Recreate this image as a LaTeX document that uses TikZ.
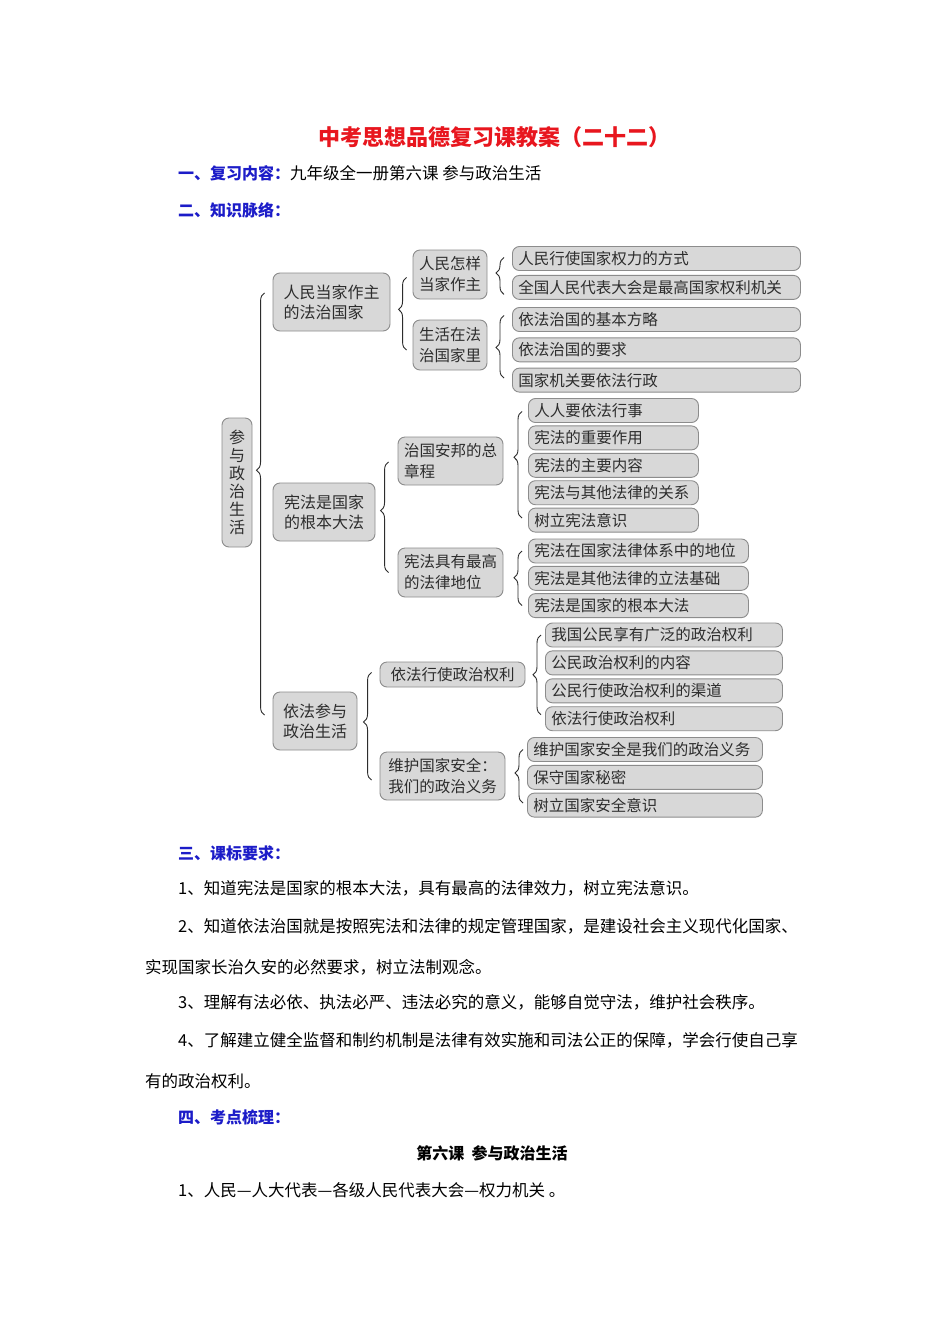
\documentclass[tikz,border=0pt]{standalone}
\usepackage{fontspec}
\setmainfont{Noto Sans CJK SC}
\usetikzlibrary{positioning, decorations.pathreplacing}
\definecolor{titlered}{RGB}{232,22,30}
\definecolor{headblue}{RGB}{28,28,200}
\definecolor{boxgray}{RGB}{216,216,216}
\definecolor{edgegray}{RGB}{140,140,140}
\definecolor{inkgray}{RGB}{45,45,45}

\begin{document}
\begin{tikzpicture}[x=1pt, y=-1pt,
  box/.style={draw=edgegray, line width=0.9pt, fill=boxgray, rounded corners=7pt, text=inkgray, font=\fontsize{16}{20}\selectfont},
  rootbox/.style={box, minimum width=30pt, minimum height=129pt, inner sep=0pt, align=center, font=\fontsize{16}{18}\selectfont},
  onebox/.style={box, minimum height=58pt, inner sep=0pt, align=left},
  twobox/.style={box, minimum height=48pt, inner sep=0pt, align=left, font=\fontsize{15.5}{21}\selectfont},
  leafbox/.style={box, anchor=west, minimum height=24pt, inner xsep=6pt, inner ysep=0pt, text width=#1, align=left, font=\fontsize{15.5}{18}\selectfont},
  brc/.style={draw=inkgray, line width=0.9pt, decorate, decoration={brace, amplitude=8pt}},
  txt/.style={anchor=west, inner sep=0pt, font=\fontsize{16.5}{20}\selectfont},
  head/.style={txt, text=headblue, font=\fontsize{16}{20}\selectfont\bfseries}]

  \fill[white] (0,0) rectangle (950,1344);
  \useasboundingbox (0,0) rectangle (950,1344);

  \node[inner sep=0pt, text=titlered, font=\fontsize{22}{26}\selectfont\bfseries] (title) at (494,137) {中考思想品德复习课教案（二十二）};
  \node[txt] (sec1) at (178,173) {{\bfseries\fontsize{16}{20}\selectfont\color{headblue}一、复习内容：}九年级全一册第六课 参与政治生活};
  \node[head] (sec2) at (178,210) {二、知识脉络：};

  \node[rootbox] (root) at (237,482.5) {参\\与\\政\\治\\生\\活};

  \node[onebox, minimum width=117pt] (peo) at (331.5,302) {人民当家作主\\的法治国家};
  \node[onebox, minimum width=102pt] (cons) at (324,512) {宪法是国家\\的根本大法};
  \node[onebox, minimum width=84pt] (pol) at (315,721) {依法参与\\政治生活};

  \node[twobox, minimum width=74pt, minimum height=49pt] (howrule) at (450,274.5) {人民怎样\\当家作主};
  \node[twobox, minimum width=74pt, minimum height=50pt] (lawhome) at (450,345) {生活在法\\治国家里};
  \node[twobox, minimum width=105pt] (charter) at (450.5,461) {治国安邦的总\\章程};
  \node[twobox, minimum width=105pt, minimum height=49pt] (supreme) at (450.5,572.5) {宪法具有最高\\的法律地位};
  \node[twobox, minimum width=145pt, minimum height=25pt] (exercise) at (452.5,674.5) {依法行使政治权利};
  \node[twobox, minimum width=125pt] (security) at (442.5,776) {维护国家安全：\\我们的政治义务};

  \node[leafbox=276pt] (a11) at (512,258.5) {人民行使国家权力的方式};
  \node[leafbox=276pt, below=4pt of a11] (a12) {全国人民代表大会是最高国家权利机关};
  \node[leafbox=276pt] (a21) at (512,319.5) {依法治国的基本方略};
  \node[leafbox=276pt, below=5.4pt of a21] (a22) {依法治国的要求};
  \node[leafbox=276pt, below=5.4pt of a22] (a23) {国家机关要依法行政};

  \node[leafbox=158pt] (b11) at (528,410.5) {人人要依法行事};
  \node[leafbox=158pt, below=2.5pt of b11] (b12) {宪法的重要作用};
  \node[leafbox=158pt, below=2.5pt of b12] (b13) {宪法的主要内容};
  \node[leafbox=158pt, below=2.5pt of b13] (b14) {宪法与其他法律的关系};
  \node[leafbox=158pt, below=2.5pt of b14] (b15) {树立宪法意识};
  \node[leafbox=208pt] (b21) at (528,551) {宪法在国家法律体系中的地位};
  \node[leafbox=208pt, below=2.4pt of b21] (b22) {宪法是其他法律的立法基础};
  \node[leafbox=208pt, below=2.4pt of b22] (b23) {宪法是国家的根本大法};

  \node[leafbox=225pt] (c11) at (545,635) {我国公民享有广泛的政治权利};
  \node[leafbox=225pt, below=3pt of c11] (c12) {公民政治权利的内容};
  \node[leafbox=225pt, below=3pt of c12] (c13) {公民行使政治权利的渠道};
  \node[leafbox=225pt, below=3pt of c13] (c14) {依法行使政治权利};
  \node[leafbox=223pt] (c21) at (527,749.5) {维护国家安全是我们的政治义务};
  \node[leafbox=223pt, below=2.9pt of c21] (c22) {保守国家秘密};
  \node[leafbox=223pt, below=2.9pt of c22] (c23) {树立国家安全意识};

  \draw[brc, decoration={aspect=0.58}] ([xshift=-8pt, yshift=6pt]pol.west) -- ([xshift=-8pt, yshift=9pt]peo.west);
  \draw[brc, decoration={aspect=0.56}] ([xshift=-6pt, yshift=-5pt]lawhome.west) -- ([xshift=-6pt, yshift=-3pt]howrule.west);
  \draw[brc, decoration={aspect=0.56}] ([xshift=-9pt]supreme.west) -- ([xshift=-9pt, yshift=-1pt]charter.west);
  \draw[brc, decoration={aspect=0.54}] ([xshift=-8pt, yshift=-4pt]security.west) -- ([xshift=-8pt, yshift=2pt]exercise.west);
  \draw[brc, decoration={aspect=0.58}] ([xshift=-8pt, yshift=-7pt]a12.west) -- ([xshift=-8pt, yshift=1pt]a11.west);
  \draw[brc, decoration={aspect=0.49}] ([xshift=-8pt, yshift=2pt]a23.west) -- ([xshift=-8pt, yshift=4pt]a21.west);
  \draw[brc, decoration={aspect=0.57}] ([xshift=-6pt, yshift=2pt]b15.west) -- ([xshift=-6pt, yshift=-1pt]b11.west);
  \draw[brc, decoration={aspect=0.51}] ([xshift=-6pt]b23.west) -- ([xshift=-6pt]b21.west);
  \draw[brc, decoration={aspect=0.5}] ([xshift=-4pt, yshift=4pt]c14.west) -- ([xshift=-4pt]c11.west);
  \draw[brc, decoration={aspect=0.56}] ([xshift=-4pt, yshift=2pt]c23.west) -- ([xshift=-4pt]c21.west);

  \node[head] (sec3) at (178,853) {三、课标要求：};
  \node[txt] (req1) at (178,888) {1、知道宪法是国家的根本大法，具有最高的法律效力，树立宪法意识。};
  \node[txt] (req2) at (178,926) {2、知道依法治国就是按照宪法和法律的规定管理国家，是建设社会主义现代化国家、};
  \node[txt] (req2b) at (145,967) {实现国家长治久安的必然要求，树立法制观念。};
  \node[txt] (req3) at (178,1002) {3、理解有法必依、执法必严、违法必究的意义，能够自觉守法，维护社会秩序。};
  \node[txt] (req4) at (178,1040) {4、了解建立健全监督和制约机制是法律有效实施和司法公正的保障，学会行使自己享};
  \node[txt] (req4b) at (145,1081) {有的政治权利。};
  \node[head] (sec4) at (178,1117) {四、考点梳理：};
  \node[inner sep=0pt, font=\fontsize{16}{20}\selectfont\bfseries] (lesson) at (492,1153) {第六课\ \ 参与政治生活};
  \node[txt] (point1) at (178,1190) {1、人民—人大代表—各级人民代表大会—权力机关 。};
\end{tikzpicture}
\end{document}
